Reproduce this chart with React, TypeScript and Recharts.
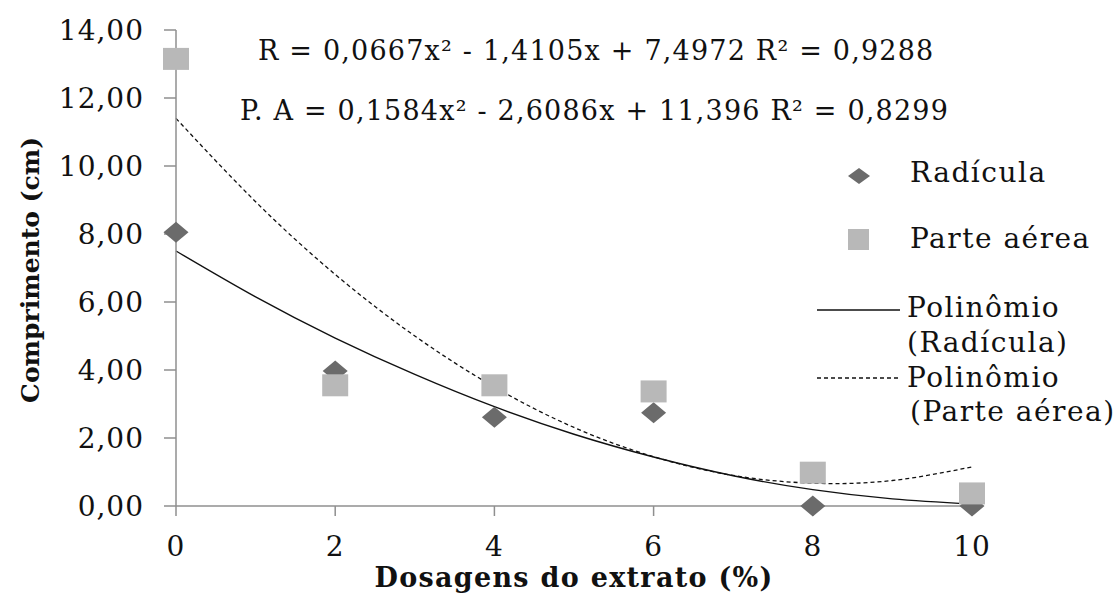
import {
  ComposedChart,
  Line,
  Scatter,
  XAxis,
  YAxis,
} from "recharts";

// measured points
const radicula = [
  { x: 0, y: 8.05 },
  { x: 2, y: 3.97 },
  { x: 4, y: 2.61 },
  { x: 6, y: 2.74 },
  { x: 8, y: 0.0 },
  { x: 10, y: 0.0 },
];

const parteAerea = [
  { x: 0, y: 13.15 },
  { x: 2, y: 3.55 },
  { x: 4, y: 3.55 },
  { x: 6, y: 3.37 },
  { x: 8, y: 0.98 },
  { x: 10, y: 0.37 },
];

// trend curves read at each dose step
const trendX = [0, 1, 2, 3, 4, 5, 6, 7, 8, 9, 10];
const trendRadicula = [7.5, 6.15, 4.94, 3.87, 2.92, 2.11, 1.44, 0.89, 0.48, 0.21, 0.06];
const trendParte = [11.4, 8.95, 6.81, 5.0, 3.5, 2.31, 1.45, 0.9, 0.67, 0.75, 1.15];

const xTicks = [0, 2, 4, 6, 8, 10];
const yTicks = [0, 2, 4, 6, 8, 10, 12, 14];

const curveR = trendX.map((x, i) => ({ x, r: trendRadicula[i] }));
const curveP = trendX.map((x, i) => ({ x, p: trendParte[i] }));

const FONT = "'DejaVu Serif', serif";
const DIAMOND = "#6b6b6b";
const SQUARE = "#b8b8b8";
const AXIS = "#8f8f8f";

const Diamond = (props: any) => {
  const { cx, cy } = props;
  return (
    <polygon
      points={`${cx},${cy - 10.5} ${cx + 12.5},${cy} ${cx},${cy + 10.5} ${cx - 12.5},${cy}`}
      fill={DIAMOND}
    />
  );
};

const Square = (props: any) => {
  const { cx, cy } = props;
  return <rect x={cx - 13} y={cy - 11} width={26} height={22} fill={SQUARE} />;
};

const txt = (left: number, top: number, size = 28, ls = 1.5) => ({
  position: "absolute" as const,
  left,
  top,
  fontFamily: FONT,
  fontSize: size,
  letterSpacing: ls,
  lineHeight: 1,
  whiteSpace: "nowrap" as const,
  transform: "translateY(-50%)",
  color: "#111",
});

const tickStyle = { fontFamily: FONT, fontSize: 28, letterSpacing: 1, fill: "#111" };

export default function App() {
  return (
    <div style={{ position: "relative", width: 1118, height: 594, background: "#fff" }}>
      <style>{"body{margin:0}"}</style>
      <ComposedChart
        width={1118}
        height={594}
        margin={{ top: 30, right: 146, bottom: 0, left: 0 }}
      >
        <XAxis
          dataKey="x"
          type="number"
          domain={[0, 10]}
          ticks={xTicks}
          height={88}
          tickSize={10}
          tickMargin={20}
          stroke={AXIS}
          strokeWidth={1.5}
          tick={tickStyle}
          label={{
            value: "Dosagens do extrato (%)",
            position: "insideBottom",
            offset: 7,
            style: {
              fontFamily: FONT,
              fontSize: 27,
              letterSpacing: 1.3,
              fontWeight: "bold",
              fill: "#111",
            },
          }}
        />
        <YAxis
          type="number"
          domain={[0, 14]}
          ticks={yTicks}
          width={176}
          tickSize={12}
          tickMargin={20}
          stroke={AXIS}
          strokeWidth={1.5}
          tickFormatter={(v: number) => v.toFixed(2).replace(".", ",")}
          tick={tickStyle}
        />
        <Scatter data={radicula} dataKey="y" shape={Diamond} isAnimationActive={false} />
        <Scatter data={parteAerea} dataKey="y" shape={Square} isAnimationActive={false} />
        <Line
          data={curveR}
          dataKey="r"
          type="natural"
          stroke="#111"
          strokeWidth={1.4}
          dot={false}
          activeDot={false}
          isAnimationActive={false}
        />
        <Line
          data={curveP}
          dataKey="p"
          type="natural"
          stroke="#111"
          strokeWidth={1.3}
          strokeDasharray="4 3"
          dot={false}
          activeDot={false}
          isAnimationActive={false}
        />
      </ComposedChart>

      {/* y axis title */}
      <div
        style={{
          position: "absolute",
          left: 30,
          top: 270,
          transform: "translate(-50%, -50%) rotate(-90deg)",
          fontFamily: FONT,
          fontSize: 25,
          fontWeight: "bold",
          whiteSpace: "nowrap",
          lineHeight: 1,
          color: "#111",
        }}
      >
        Comprimento (cm)
      </div>

      {/* trend equations */}
      <div style={txt(258, 50, 27, 1.2)}>R = 0,0667x² - 1,4105x + 7,4972 R² = 0,9288</div>
      <div style={txt(240, 110, 27, 1.2)}>P. A = 0,1584x² - 2,6086x + 11,396 R² = 0,8299</div>

      {/* legend */}
      <svg style={{ position: "absolute", left: 0, top: 0 }} width={1118} height={594} pointerEvents="none">
        <polygon points="859,168 870,176 859,184 848,176" fill={DIAMOND} />
        <rect x={848} y={229} width={21} height={21} fill={SQUARE} />
        <line x1={817} y1={310} x2={900} y2={310} stroke="#111" strokeWidth={1.4} />
        <line x1={817} y1={378} x2={900} y2={378} stroke="#111" strokeWidth={1.3} strokeDasharray="4 3" />
      </svg>
      <div style={txt(910, 173)}>Radícula</div>
      <div style={txt(910, 239)}>Parte aérea</div>
      <div style={txt(907, 308)}>Polinômio</div>
      <div style={txt(907, 343)}>(Radícula)</div>
      <div style={txt(907, 378)}>Polinômio</div>
      <div style={txt(910, 412)}>(Parte aérea)</div>
    </div>
  );
}
